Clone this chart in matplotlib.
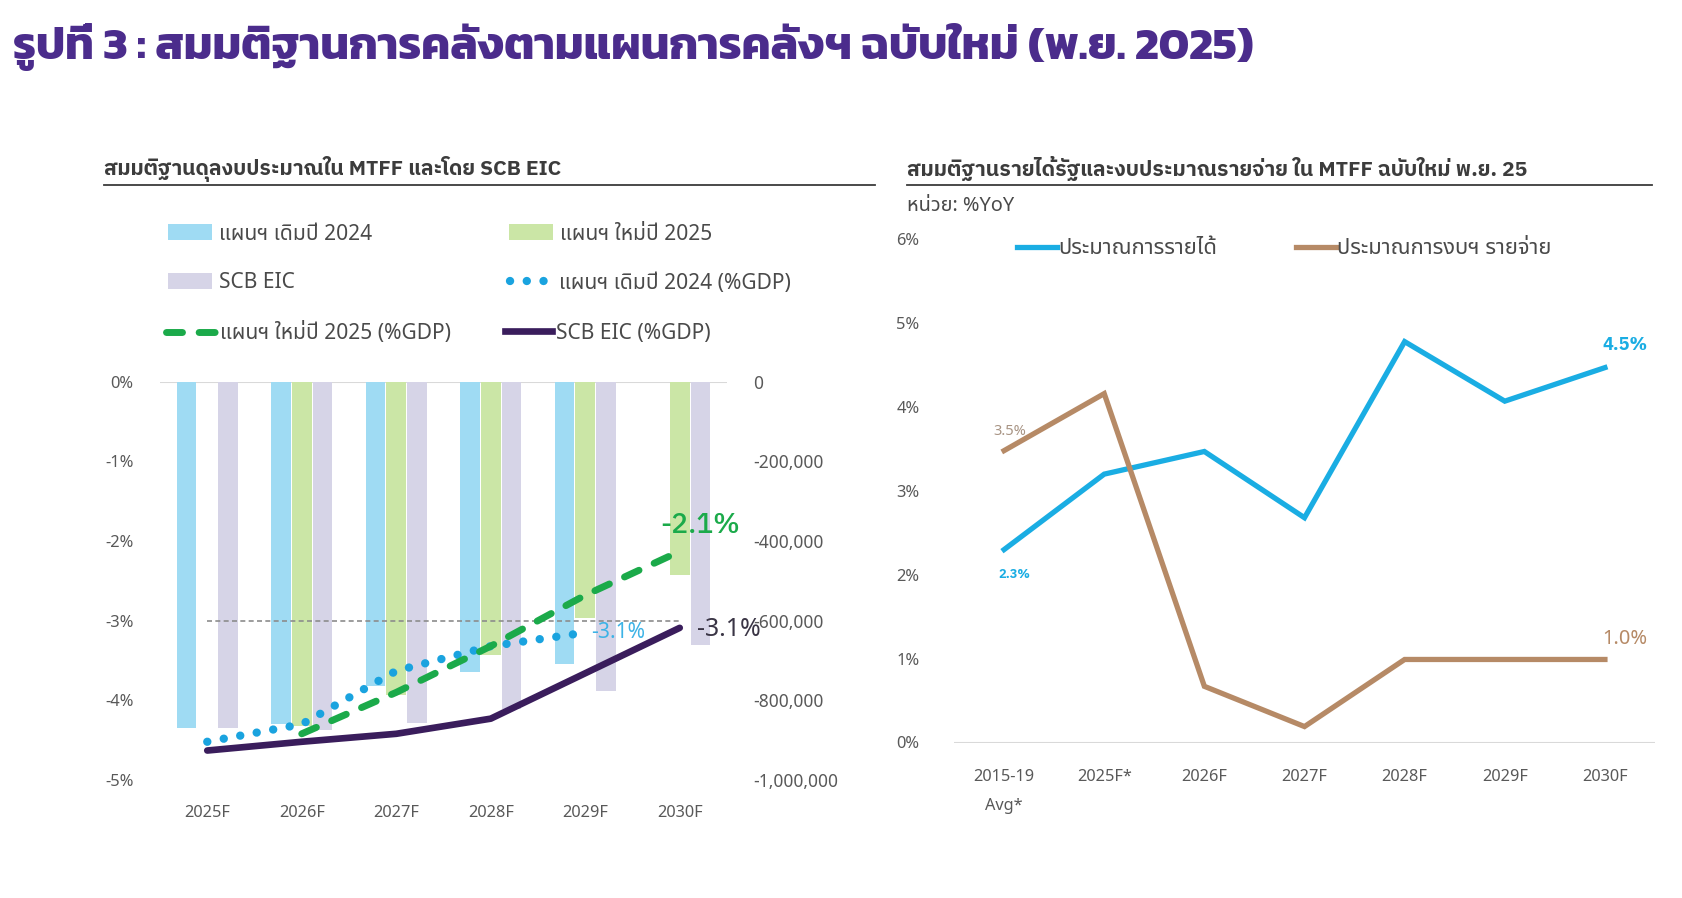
import numpy as np
import matplotlib
matplotlib.use("Agg")
import matplotlib.pyplot as plt
from matplotlib import font_manager as fm
from matplotlib.lines import Line2D
from matplotlib.patches import Patch
from matplotlib.font_manager import FontProperties
from matplotlib.ticker import FuncFormatter, FixedLocator

# ---------------- data ----------------
years_left = ["2025F", "2026F", "2027F", "2028F", "2029F", "2030F"]
# budget balance, million baht (right axis)
old_plan_mb = [-870000, -860000, -764000, -728000, -708000, np.nan]
new_plan_mb = [np.nan, -865000, -786000, -685000, -594000, -486000]
scb_eic_mb = [-870000, -875000, -856000, -822000, -776000, -660000]
# budget balance, % of GDP (left axis)
old_plan_gdp = [-4.52, -4.30, -3.63, -3.32, -3.15, np.nan]
new_plan_gdp = [np.nan, -4.42, -3.90, -3.32, -2.68, -2.13]
scb_eic_gdp = [-4.63, -4.52, -4.42, -4.23, -3.66, -3.09]
ref_level = -3

left_ticks_pct = [0, -1, -2, -3, -4, -5]
left_ticks_mb = [0, -200000, -400000, -600000, -800000, -1000000]

years_right = ["2015-19\nAvg*", "2025F*", "2026F", "2027F", "2028F", "2029F", "2030F"]
revenue_yoy = [2.3, 3.2, 3.47, 2.68, 4.78, 4.07, 4.47]
expenditure_yoy = [3.48, 4.16, 0.67, 0.19, 0.99, 0.99, 0.99]
right_ticks = [0, 1, 2, 3, 4, 5, 6]

title = "รูปที่ 3 : สมมติฐานการคลังตามแผนการคลังฯ ฉบับใหม่ (พ.ย. 2025)"
sub_left = "สมมติฐานดุลงบประมาณใน MTFF และโดย SCB EIC"
sub_right = "สมมติฐานรายได้รัฐและงบประมาณรายจ่าย ใน MTFF ฉบับใหม่ พ.ย. 25"
unit_right = "หน่วย: %YoY"
lab_old_bar = "แผนฯ เดิมปี 2024"
lab_new_bar = "แผนฯ ใหม่ปี 2025"
lab_scb_bar = "SCB EIC"
lab_old_line = "แผนฯ เดิมปี 2024 (%GDP)"
lab_new_line = "แผนฯ ใหม่ปี 2025 (%GDP)"
lab_scb_line = "SCB EIC (%GDP)"
lab_rev = "ประมาณการรายได้"
lab_exp = "ประมาณการงบฯ รายจ่าย"

# ---------------- styles ----------------
def wnum(w):
    return w if isinstance(w, (int, float)) else fm.weight_dict.get(w, 400)

weights = {}
for f in fm.fontManager.ttflist:
    if f.style == "normal":
        weights.setdefault(f.name, set()).add(wnum(f.weight))

def pick(cands, need_bold=False):
    for c in cands:
        if c in weights and (not need_bold or max(weights[c]) >= 700):
            return c
    return "DejaVu Sans"

TITLE_FONT = pick(["Kanit", "Prompt", "Mitr", "IBM Plex Sans Thai", "Noto Sans Thai"], True)
BODY_FONT = pick(["Noto Sans Thai", "IBM Plex Sans Thai", "Anuphan", "Sarabun"])
BOLD_FONT = pick(["Noto Sans Thai", "IBM Plex Sans Thai", "Anuphan", "Sarabun"], True)
TF = [TITLE_FONT, "DejaVu Sans"]
BF = [BODY_FONT, "Noto Sans", "DejaVu Sans"]
BB = [BOLD_FONT, "Noto Sans", "DejaVu Sans"]
plt.rcParams["font.family"] = BF

C_OLD_BAR = "#9FDBF3"
C_NEW_BAR = "#CBE6A6"
C_SCB_BAR = "#D6D4E7"
C_OLD_LINE = "#1AA3DF"
C_NEW_LINE = "#1BAA4A"
C_SCB_LINE = "#3A1D5C"
C_REV = "#1AADE3"
C_EXP = "#B68A66"
C_TXT = "#4A4A4A"
C_TICK = "#595959"

W, H = 1682, 898
fig = plt.figure(figsize=(W / 100, H / 100), dpi=100)
renderer = fig.canvas.get_renderer()

def px(x):
    return x / W

def py(y):
    return 1 - y / H

def size_for(s, target_px, family=BF, weight="normal"):
    t = fig.text(0, 0, s, fontsize=20, family=family, weight=weight)
    w = t.get_window_extent(renderer=renderer).width
    t.remove()
    return 20 * target_px / w

# ---------------- titles ----------------
fig.text(px(13), py(59), title, family=TF, weight="bold", color="#4B2C8C",
         fontsize=size_for(title, 1245, TF, "bold"), va="baseline", ha="left")
fig.text(px(104), py(175), sub_left, family=BB, weight="bold", color="#3C3C3C",
         fontsize=size_for(sub_left, 456, BB, "bold"), va="baseline", ha="left")
fig.text(px(907), py(176), sub_right, family=BB, weight="bold", color="#3C3C3C",
         fontsize=size_for(sub_right, 618, BB, "bold"), va="baseline", ha="left")
fig.text(px(907), py(211), unit_right, family=BF, color=C_TXT,
         fontsize=size_for(unit_right, 107), va="baseline", ha="left")
fig.add_artist(Line2D([px(104), px(875)], [py(185), py(185)], color="#3C3C3C", lw=1.3))
fig.add_artist(Line2D([px(907), px(1652)], [py(185), py(185)], color="#3C3C3C", lw=1.3))

tick_fs = size_for("2025F", 46)
ylab_fs = size_for("-200,000", 70)

# ---------------- left chart ----------------
ax = fig.add_axes([px(160), py(780), px(727 - 160), (780 - 381.7) / H])
ax2 = ax.twinx()
x = np.arange(len(years_left))
bw = 0.21
ax.bar(x - 0.22, old_plan_mb, bw, color=C_OLD_BAR, zorder=2)
ax.bar(x, new_plan_mb, bw, color=C_NEW_BAR, zorder=2)
ax.bar(x + 0.22, scb_eic_mb, bw, color=C_SCB_BAR, zorder=2)
ax.axhline(0, color="#D9D9D9", lw=1.5, zorder=1)
ax.set_ylim(left_ticks_mb[-1], 0)
ax.set_xlim(-0.5, len(years_left) - 0.5)
ax.yaxis.tick_right()
ax.yaxis.set_major_locator(FixedLocator(left_ticks_mb))
ax.yaxis.set_major_formatter(FuncFormatter(lambda v, p: f"{v:,.0f}".replace("\u2212", "-")))
ax.set_xticks(x)
ax.set_xticklabels(years_left)
ax.tick_params(axis="y", length=0, pad=19, labelsize=ylab_fs, labelcolor=C_TICK)
ax.tick_params(axis="x", length=0, pad=18, labelsize=tick_fs, labelcolor=C_TICK)

ax2.hlines(ref_level, x[0], x[-1], colors="#8C8C8C", lw=1.2, linestyles=(0, (3, 2)), zorder=1)
ax2.plot(x, old_plan_gdp, color=C_OLD_LINE, lw=6, linestyle=(0, (0.01, 2.0)),
         dash_capstyle="round", zorder=3)
ax2.plot(x, new_plan_gdp, color=C_NEW_LINE, lw=5, linestyle=(0, (2.3, 2.4)),
         dash_capstyle="round", zorder=4)
ax2.plot(x, scb_eic_gdp, color=C_SCB_LINE, lw=4.8, solid_capstyle="round",
         solid_joinstyle="round", zorder=5)
ax2.set_ylim(left_ticks_pct[-1], 0)
ax2.yaxis.tick_left()
ax2.yaxis.set_major_locator(FixedLocator(left_ticks_pct))
ax2.yaxis.set_major_formatter(FuncFormatter(lambda v, p: f"{v:.0f}%".replace("\u2212", "-")))
ax2.tick_params(axis="y", length=0, pad=19, labelsize=ylab_fs * 0.95, labelcolor=C_TICK)
for a in (ax, ax2):
    for s in a.spines.values():
        s.set_visible(False)

# annotations left
i_new = len(years_left) - 1
ax2.annotate(f"{new_plan_gdp[i_new]:.1f}%", (x[i_new], new_plan_gdp[i_new]),
             xytext=(20, 26), textcoords="offset pixels", ha="center", va="center",
             color=C_NEW_LINE, fontsize=size_for("-2.1%", 80, BB, 500), weight=500,
             family=BB, zorder=6)
i_old = len(years_left) - 2
ax2.annotate(f"{old_plan_gdp[i_old]:.1f}%", (x[i_old], old_plan_gdp[i_old]),
             xytext=(33, 0), textcoords="offset pixels", ha="center", va="center",
             color="#3DB3E6", fontsize=size_for("-3.1%", 54), zorder=6)
ax2.annotate(f"{scb_eic_gdp[i_new]:.1f}%", (x[i_new], scb_eic_gdp[i_new]),
             xytext=(17, -2), textcoords="offset pixels", ha="left", va="center",
             color="#3A3545", fontsize=size_for("-3.1%", 64), zorder=6)

# legends left (one entry each, placed like the original)
leg_fs = size_for(lab_old_bar, 153)
fs_px = leg_fs * 100 / 72

def item(handle, label, xh, yc, hl_px, pad_px, hh_px=None):
    kw = dict(handles=[handle], labels=[label], loc="center left",
              bbox_to_anchor=(px(xh), py(yc)), bbox_transform=fig.transFigure,
              frameon=False, borderpad=0, borderaxespad=0,
              handlelength=hl_px / fs_px, handletextpad=pad_px / fs_px,
              prop=FontProperties(family=BF, size=leg_fs), labelcolor=C_TXT)
    if hh_px:
        kw["handleheight"] = hh_px / fs_px
    fig.legend(**kw)

item(Patch(facecolor=C_OLD_BAR), lab_old_bar, 168, 234, 44, 7, 16)
item(Patch(facecolor=C_SCB_BAR), lab_scb_bar, 168, 283, 44, 7, 16)
item(Line2D([], [], color=C_NEW_LINE, lw=5, linestyle=(0, (2.3, 2.4)), dash_capstyle="round"),
     lab_new_line, 166, 333, 49, 5)
item(Patch(facecolor=C_NEW_BAR), lab_new_bar, 509, 234, 44, 7, 16)
item(Line2D([], [], color=C_OLD_LINE, lw=6, linestyle=(0, (0.01, 2.0)), dash_capstyle="round"),
     lab_old_line, 510, 283, 40, 9)
item(Line2D([], [], color=C_SCB_LINE, lw=4.8), lab_scb_line, 505, 333, 47, 4)

# ---------------- right chart ----------------
axr = fig.add_axes([px(954), py(742.5), px(1655 - 954), (742.5 - 239.3) / H])
xr = np.arange(len(years_right))
axr.plot(xr, revenue_yoy, color=C_REV, lw=3.8, solid_joinstyle="miter", zorder=3)
axr.plot(xr, expenditure_yoy, color=C_EXP, lw=3.8, solid_joinstyle="miter", zorder=3)
axr.axhline(0, color="#D9D9D9", lw=1.5, zorder=1)
axr.set_ylim(right_ticks[0], right_ticks[-1])
axr.set_xlim(-0.5, len(years_right) - 0.5)
axr.yaxis.set_major_locator(FixedLocator(right_ticks))
axr.yaxis.set_major_formatter(FuncFormatter(lambda v, p: f"{v:.0f}%"))
axr.set_xticks(xr)
axr.set_xticklabels(years_right, linespacing=2.1)
axr.tick_params(axis="y", length=0, pad=25, labelsize=ylab_fs * 0.95, labelcolor=C_TICK)
axr.tick_params(axis="x", length=0, pad=19, labelsize=tick_fs, labelcolor=C_TICK)
for s in axr.spines.values():
    s.set_visible(False)

last = len(years_right) - 1
axr.annotate(f"{revenue_yoy[last]:.1f}%", (xr[last], revenue_yoy[last]), xytext=(20, 23),
             textcoords="offset pixels", ha="center", va="center", color=C_REV,
             weight="bold", family=BB, fontsize=size_for("4.5%", 45, BB, "bold"))
axr.annotate(f"{expenditure_yoy[last]:.1f}%", (xr[last], expenditure_yoy[last]), xytext=(20, 20),
             textcoords="offset pixels", ha="center", va="center", color=C_EXP,
             fontsize=size_for("1.0%", 45))
axr.annotate(f"{expenditure_yoy[0]:.1f}%", (xr[0], expenditure_yoy[0]), xytext=(6, 19),
             textcoords="offset pixels", ha="center", va="center", color="#A89484",
             fontsize=size_for("3.5%", 33))
axr.annotate(f"{revenue_yoy[0]:.1f}%", (xr[0], revenue_yoy[0]), xytext=(10, -25),
             textcoords="offset pixels", ha="center", va="center", color=C_REV,
             weight="bold", family=BB, fontsize=size_for("2.3%", 32, BB, "bold"))

rl_fs = size_for(lab_rev, 159)
fs_px = rl_fs * 100 / 72
leg_fs = rl_fs
item(Line2D([], [], color=C_REV, lw=3.8), lab_rev, 1017, 249, 40, 1)
item(Line2D([], [], color=C_EXP, lw=3.8), lab_exp, 1296, 249, 40, 1)

fig.savefig("out.png", dpi=100)
